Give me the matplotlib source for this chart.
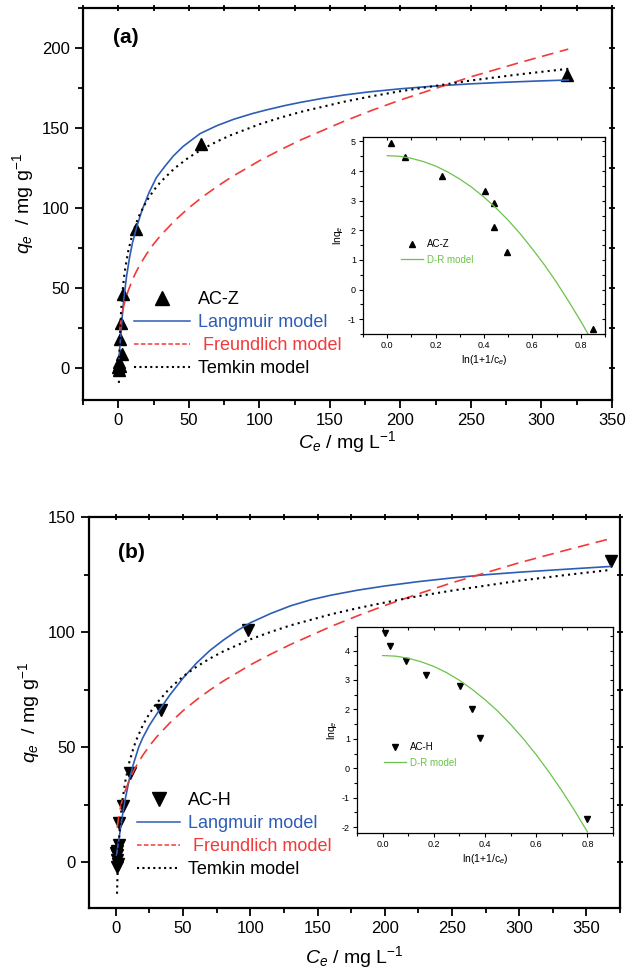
import matplotlib
matplotlib.use("Agg")
import matplotlib.pyplot as plt
from matplotlib.lines import Line2D
from matplotlib.ticker import MultipleLocator, NullFormatter

plt.rcParams['font.family'] = ['Liberation Sans', 'DejaVu Sans']
plt.rcParams['mathtext.fontset'] = 'custom'
plt.rcParams['mathtext.rm'] = 'Liberation Sans'
plt.rcParams['mathtext.it'] = 'Liberation Sans:italic'
plt.rcParams['axes.unicode_minus'] = False

BLUE = '#2e5db5'
RED = '#f23a3a'
GREEN = '#6cc24a'

# ---- panel (a): AC-Z ----
a_ce = [0.1, 0.3, 0.6, 0.2, 1.0, 2.5, 1.4, 1.9, 3.6, 12.6, 59, 318]
a_qe = [0.5, 2, 4, -1, 1.5, 9, 18, 28, 46, 87, 140, 183]

a_lang_c = [0.5, 1, 2, 3, 4, 6, 8, 10, 13, 17, 22, 27, 33, 39, 46, 58, 70, 82, 95,
            105, 118, 129, 144, 160, 177, 200, 224, 250, 272, 295, 319]
a_lang_q = [6, 12, 23, 34, 44, 58, 69, 78, 88, 99, 110, 119, 126, 132.5, 138.5,
            146.5, 151.5, 155.5, 159, 161.3, 164, 166, 168.4, 170.6, 172.5, 174.5,
            176.2, 177.6, 178.5, 179.3, 180]
a_freu_c = [1, 1.5, 2, 3, 4, 5, 7, 10, 12, 15, 20, 25, 30, 40, 50, 60, 70, 80, 100,
            115, 130, 160, 180, 200, 250, 285, 319]
a_freu_q = [23.4, 27.2, 30.3, 35.2, 39.2, 42.5, 48.2, 55.0, 58.9, 64.0, 71.2, 77.4,
            82.8, 92.1, 100.1, 107.1, 113.4, 119.2, 129.5, 136.4, 142.8, 154.2,
            161.1, 167.5, 182.0, 191.0, 199.3]
a_temk_c = [0.45, 0.6, 0.8, 1, 1.5, 2, 3, 4, 5, 7, 10, 12, 15, 20, 25, 30, 40, 50, 60,
            70, 80, 100, 115, 130, 160, 180, 200, 250, 285, 319]
a_temk_q = [-9.3, -0.7, 8.0, 14.6, 26.7, 35.3, 47.5, 56.1, 62.7, 72.8, 83.5, 88.9,
            95.6, 104.2, 110.9, 116.3, 124.9, 131.6, 137.0, 141.6, 145.6, 152.3,
            156.5, 160.2, 166.4, 169.9, 173.0, 179.7, 183.6, 187.0]

a_dr_x = [0.017, 0.072, 0.228, 0.403, 0.443, 0.443, 0.493, 0.85]
a_dr_y = [4.95, 4.47, 3.84, 3.33, 2.92, 2.12, 1.26, -1.34]
a_drfit_x = [0, 0.05, 0.1, 0.15, 0.2, 0.25, 0.3, 0.35, 0.4, 0.45, 0.5, 0.55, 0.6,
             0.65, 0.7, 0.75, 0.8, 0.83]
a_drfit_y = [4.52, 4.50, 4.43, 4.32, 4.17, 3.97, 3.73, 3.45, 3.12, 2.75, 2.34, 1.88,
             1.37, 0.83, 0.24, -0.40, -1.07, -1.50]

# ---- panel (b): AC-H ----
b_ce = [0.5, 1.0, 0.5, 1.5, 1.0, 0.2, 2.2, 2.5, 5, 10.4, 33.3, 98.3, 368]
b_qe = [5, 3, 1, -1, -2, 4, 7.4, 16.8, 24.3, 38.9, 66.2, 100.9, 131]

b_lang_c = [0.5, 1, 2, 3, 4, 5.5, 7, 10, 13, 17, 20, 25, 30, 35, 40, 50, 60, 70, 80,
            90, 100, 115, 130, 145, 160, 180, 200, 225, 250, 275, 300, 335, 368]
b_lang_q = [3, 5, 9, 13, 17, 22.5, 27.5, 36, 42.5, 50, 54, 59.5, 64, 68.3, 72.5, 80,
            86.5, 92, 96.5, 100.5, 104, 108, 111.4, 114, 116, 118.2, 120, 121.9,
            123.5, 124.9, 126, 127.3, 128.5]
b_freu_c = [1, 1.5, 2, 3, 4, 5, 7, 10, 13, 15, 20, 25, 30, 40, 50, 60, 70, 80, 100,
            115, 130, 160, 180, 200, 225, 250, 300, 335, 368]
b_freu_q = [14.9, 17.3, 19.3, 22.6, 25.2, 27.4, 31.1, 35.7, 39.4, 41.6, 46.4, 50.5,
            54.2, 60.4, 65.8, 70.5, 74.8, 78.7, 85.7, 90.3, 94.6, 102.4, 107.1,
            111.5, 116.6, 121.4, 130.1, 135.6, 140.6]
b_temk_c = [0.85, 1, 1.2, 1.5, 2, 3, 4, 5, 7, 10, 13, 15, 20, 25, 30, 40, 50, 60, 70,
            80, 100, 115, 130, 160, 180, 200, 225, 250, 300, 335, 368]
b_temk_q = [-13.8, -10.1, -5.8, -0.7, 6.0, 15.4, 22.1, 27.3, 35.1, 43.4, 49.4, 52.8,
            59.4, 64.6, 68.8, 75.5, 80.7, 84.9, 88.5, 91.6, 96.8, 100.0, 102.9,
            107.7, 110.4, 112.8, 115.6, 118.0, 122.3, 124.8, 127.0]

b_dr_x = [0.0105, 0.029, 0.090, 0.169, 0.302, 0.351, 0.382, 0.80]
b_dr_y = [4.59, 4.17, 3.65, 3.18, 2.81, 2.0, 1.03, -1.71]
b_drfit_x = [0, 0.05, 0.1, 0.15, 0.2, 0.25, 0.3, 0.35, 0.4, 0.45, 0.5, 0.55, 0.6,
             0.65, 0.7, 0.75, 0.8]
b_drfit_y = [3.83, 3.81, 3.74, 3.62, 3.46, 3.25, 2.99, 2.68, 2.33, 1.94, 1.49, 1.0,
             0.46, -0.13, -0.76, -1.44, -2.16]


def mirror_ticks(ax, xstep, ystep, length, width, direction):
    # little ticks on top and right, no labels
    top = ax.secondary_xaxis('top')
    top.xaxis.set_major_locator(MultipleLocator(xstep))
    top.xaxis.set_major_formatter(NullFormatter())
    top.tick_params(direction=direction, length=length, width=width)
    right = ax.secondary_yaxis('right')
    right.yaxis.set_major_locator(MultipleLocator(ystep))
    right.yaxis.set_major_formatter(NullFormatter())
    right.tick_params(direction=direction, length=length, width=width)
    for s in list(top.spines.values()) + list(right.spines.values()):
        s.set_visible(False)


def style_main(ax, xlim, ylim, ymajor, yminor, xpad):
    ax.set_xlim(*xlim)
    ax.set_ylim(*ylim)
    ax.xaxis.set_major_locator(MultipleLocator(50))
    ax.xaxis.set_minor_locator(MultipleLocator(25))
    ax.yaxis.set_major_locator(MultipleLocator(ymajor))
    ax.yaxis.set_minor_locator(MultipleLocator(yminor))
    for s in ax.spines.values():
        s.set_linewidth(1.6)
    ax.tick_params(which='both', direction='out', width=1.3, labelsize=12)
    ax.tick_params(which='major', length=6)
    ax.tick_params(which='minor', length=3.5)
    mirror_ticks(ax, 25, yminor, 4, 1.3, 'inout')
    ax.set_xlabel('$C_e$ / mg L$^{-1}$', fontsize=14, labelpad=xpad)
    ax.set_ylabel('$q_e$  / mg g$^{-1}$', fontsize=14, labelpad=4)


def draw_main(ax, ce, qe, marker, name, lang, freu, temk, legend_xy, hl, fig):
    ax.plot(ce, qe, marker, color='black', ms=9, ls='none')
    ax.plot(lang[0], lang[1], color=BLUE, lw=1.2)
    ax.plot(freu[0], freu[1], color=RED, lw=1.2, dashes=(7, 4))
    ax.plot(temk[0], temk[1], color='black', lw=1.5, ls=(0, (1, 2)))
    # legend samples drawn with finer patterns, as in the original
    handles = [
        Line2D([], [], marker=marker, color='black', ms=10.5, ls='none'),
        Line2D([], [], color=BLUE, lw=1.1),
        Line2D([], [], color=RED, lw=1.1, dashes=(3, 1.5)),
        Line2D([], [], color='black', lw=1.5, ls=(0, (1, 1.6))),
    ]
    labels = [name, 'Langmuir model', ' Freundlich model', 'Temkin model']
    ax.legend(handles, labels, loc='upper left',
              bbox_to_anchor=legend_xy, bbox_transform=fig.transFigure,
              frameon=False, fontsize=13, handlelength=hl, handletextpad=0.45,
              labelspacing=0.33, borderpad=0, borderaxespad=0,
              labelcolor=['black', BLUE, RED, 'black'])


def draw_inset(ax, x, y, fx, fy, marker, name, ylim, yticks, legend_xy, fig):
    pts, = ax.plot(x, y, marker, color='black', ms=5, ls='none', label=name)
    fit, = ax.plot(fx, fy, color=GREEN, lw=0.9, label='D-R model')
    ax.set_xlim(-0.1, 0.9)
    ax.set_ylim(*ylim)
    ax.set_yticks(yticks)
    ax.xaxis.set_major_locator(MultipleLocator(0.2))
    ax.xaxis.set_minor_locator(MultipleLocator(0.1))
    ax.yaxis.set_minor_locator(MultipleLocator(0.5))
    for s in ax.spines.values():
        s.set_linewidth(0.9)
    ax.tick_params(which='both', direction='out', width=0.8, labelsize=6.5, pad=2)
    ax.tick_params(which='major', length=3)
    ax.tick_params(which='minor', length=2)
    mirror_ticks(ax, 0.1, 0.5, 2.5, 0.8, 'in')
    ax.set_xlabel('ln(1+1/c$_e$)', fontsize=7.5, labelpad=2)
    ax.set_ylabel('lnq$_e$', fontsize=7.5, labelpad=2)
    ax.legend(handles=[pts, fit], loc='upper left', bbox_to_anchor=legend_xy,
              bbox_transform=fig.transFigure, frameon=False, fontsize=7,
              handlelength=2.3, handletextpad=0.4, labelspacing=0.6, borderpad=0,
              borderaxespad=0, labelcolor=['black', GREEN])


def main():
    W, H = 626, 974
    fig = plt.figure(figsize=(W / 100, H / 100), dpi=100)

    def box(l, r, t, b):
        return [l / W, 1 - b / H, (r - l) / W, (b - t) / H]

    ax_a = fig.add_axes(box(83, 612, 8, 400))
    style_main(ax_a, (-25, 350), (-20, 225), 50, 25, 1)
    draw_main(ax_a, a_ce, a_qe, '^', 'AC-Z', (a_lang_c, a_lang_q),
              (a_freu_c, a_freu_q), (a_temk_c, a_temk_q),
              (134 / W, 1 - 291 / H), 3.1, fig)
    ax_a.text(0.057, 0.926, '(a)', transform=ax_a.transAxes, fontsize=15,
              fontweight='bold', va='center')

    ax_b = fig.add_axes(box(89, 620, 517, 908))
    style_main(ax_b, (-20, 375), (-20, 150), 50, 25, 6)
    draw_main(ax_b, b_ce, b_qe, 'v', 'AC-H', (b_lang_c, b_lang_q),
              (b_freu_c, b_freu_q), (b_temk_c, b_temk_q),
              (137 / W, 1 - 792 / H), 2.4, fig)
    ax_b.text(0.055, 0.908, '(b)', transform=ax_b.transAxes, fontsize=15,
              fontweight='bold', va='center')

    in_a = fig.add_axes(box(363, 605, 137, 334))
    draw_inset(in_a, a_dr_x, a_dr_y, a_drfit_x, a_drfit_y, '^', 'AC-Z',
               (-1.5, 5.15), [-1, 0, 1, 2, 3, 4, 5], (401 / W, 1 - 239 / H), fig)

    in_b = fig.add_axes(box(357, 613, 627, 833))
    draw_inset(in_b, b_dr_x, b_dr_y, b_drfit_x, b_drfit_y, 'v', 'AC-H',
               (-2.2, 4.8), [-2, -1, 0, 1, 2, 3, 4], (384 / W, 1 - 742 / H), fig)

    fig.savefig('out.png', dpi=100)
    plt.close(fig)


if __name__ == '__main__':
    main()
